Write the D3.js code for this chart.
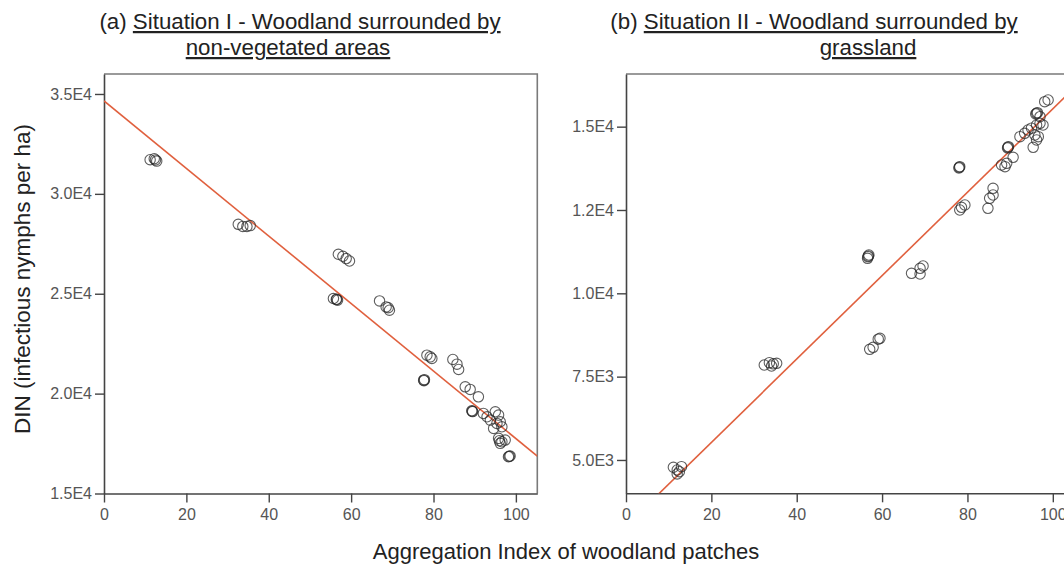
<!DOCTYPE html>
<html>
<head>
<meta charset="utf-8">
<script src="https://cdn.jsdelivr.net/npm/d3@7"></script>
<style>
  html, body { margin: 0; padding: 0; background: #fff; }
  svg { display: block; font-family: "Liberation Sans", Arial, sans-serif; }
</style>
</head>
<body>
<svg id="chart" width="1064" height="565"></svg>
<script>
// ---------- DATA ----------
const xTickValues = [0, 20, 40, 60, 80, 100];
const xTickLabels = ["0", "20", "40", "60", "80", "100"];

const yTickValuesA = [15000, 20000, 25000, 30000, 35000];
const yTickLabelsA = ["1.5E4", "2.0E4", "2.5E4", "3.0E4", "3.5E4"];
const yTickValuesB = [5000, 7500, 10000, 12500, 15000];
const yTickLabelsB = ["5.0E3", "7.5E3", "1.0E4", "1.2E4", "1.5E4"];

// Panel (a): aggregation index and DIN
const aggIndexA = [11.2, 12.2, 12.8, 12.5,
  32.6, 33.7, 34.7, 35.5,
  56.9, 58.0, 58.8, 59.6,
  55.7, 56.4, 56.7, 56.5,
  66.9, 68.5, 69.3, 69.0,
  78.4, 79.2, 79.6,
  77.6, 77.8, 77.7,
  84.7, 85.7, 86.1,
  87.7, 88.9, 90.9,
  89.3, 89.5, 89.4,
  92.1, 93.0, 93.8, 95.0, 95.8, 96.2, 96.6, 95.4, 94.6,
  95.8, 96.6, 96.2, 97.4, 96.0,
  98.2, 98.6, 98.4];
const dinA = [31710, 31760, 31640, 31700,
  28475, 28370, 28370, 28410,
  26975, 26875, 26760, 26640,
  24760, 24710, 24675, 24720,
  24640, 24340, 24175, 24300,
  21925, 21840, 21760,
  20675, 20700, 20650,
  21710, 21475, 21210,
  20340, 20210, 19840,
  19140, 19100, 19120,
  19010, 18840, 18675, 19090, 18925, 18590, 18340, 18510, 18260,
  17760, 17590, 17510, 17675, 17640,
  16840, 16875, 16860];

// Panel (b)
const aggIndexB = [11.1, 12.0, 13.0, 12.0, 12.5,
  32.4, 33.6, 34.5, 35.3, 34.1,
  57.1, 57.9, 59.1, 59.5,
  56.7, 56.9, 56.6, 56.8,
  66.9, 68.9, 69.6, 68.9,
  78.1, 78.2, 78.0,
  78.6, 79.4, 78.2,
  84.8, 85.2, 86.0, 86.0,
  88.0, 89.2, 88.8, 90.7,
  89.5, 89.6, 89.4,
  92.3, 93.4, 94.2, 95.0, 96.2, 97.0, 97.7,
  95.4, 96.2, 96.6, 95.8,
  96.2, 97.0, 96.4, 96.0,
  98.1, 98.9];
const dinB = [4780, 4700, 4800, 4580, 4650,
  7850, 7920, 7885, 7900, 7820,
  8320, 8380, 8625, 8650,
  11100, 11150, 11050, 11120,
  10600, 10750, 10820, 10580,
  13780, 13800, 13760,
  12580, 12650, 12500,
  12550, 12850, 12950, 13150,
  13850, 13900, 13800, 14080,
  14380, 14400, 14360,
  14700, 14800, 14900, 14955, 15050, 15100, 15050,
  14380, 14600, 14700, 14750,
  15400, 15300, 15420, 15380,
  15750, 15800];

// Linear fit lines: [intercept, slope]
const fitA = [34650, -169];
const fitB = [3024, 125.1];

const titleA = ["(a) ", "Situation I - Woodland surrounded by", "non-vegetated areas"];
const titleB = ["(b) ", "Situation II - Woodland surrounded by", "grassland"];
const yAxisTitle = "DIN (infectious nymphs per ha)";
const xAxisTitle = "Aggregation Index of woodland patches";

// ---------- DRAW ----------
const svg = d3.select("#chart");
const plotTop = 74;

const panels = [
  { x0: 104, x1: 537.3, y0: 493.5, xDom: [0, 105.2], yDom: [15000, 36000],
    xs: aggIndexA, ys: dinA, fit: fitA, yt: yTickValuesA, yl: yTickLabelsA, id: "a" },
  { x0: 626, x1: 1075, y0: 493.3, xDom: [0, 105.2], yDom: [4000, 16580],
    xs: aggIndexB, ys: dinB, fit: fitB, yt: yTickValuesB, yl: yTickLabelsB, id: "b" }
];

panels.forEach(p => {
  const x = d3.scaleLinear().domain(p.xDom).range([p.x0, p.x1]);
  const y = d3.scaleLinear().domain(p.yDom).range([p.y0, plotTop]);

  svg.append("clipPath").attr("id", "clip" + p.id)
    .append("rect").attr("x", p.x0).attr("y", plotTop)
    .attr("width", p.x1 - p.x0).attr("height", p.y0 - plotTop);

  svg.append("path")
    .attr("d", `M${p.x0},${plotTop}H${p.x1}V${p.y0}`)
    .attr("fill", "none").attr("stroke", "#7a7a7a").attr("stroke-width", 1.6);

  const gx = svg.append("g").attr("transform", `translate(0,${p.y0})`)
    .call(d3.axisBottom(x).tickValues(xTickValues)
      .tickFormat((d, i) => xTickLabels[i]).tickSize(9).tickPadding(4).tickSizeOuter(0));
  const gy = svg.append("g").attr("transform", `translate(${p.x0},0)`)
    .call(d3.axisLeft(y).tickValues(p.yt)
      .tickFormat((d, i) => p.yl[i]).tickSize(9).tickPadding(3).tickSizeOuter(0));
  [gx, gy].forEach(g => {
    g.select(".domain").attr("stroke", "#444").attr("stroke-width", 1.6);
    g.selectAll(".tick line").attr("stroke", "#444").attr("stroke-width", 1.4);
    g.selectAll(".tick text").attr("fill", "#555").attr("font-size", 16)
      .attr("font-family", "'Liberation Sans', Arial, sans-serif");
  });
  gx.selectAll(".tick text").attr("dy", "0.85em");

  const lineData = p.xDom.map(v => [v, p.fit[0] + p.fit[1] * v]);
  svg.append("path")
    .datum(lineData)
    .attr("clip-path", `url(#clip${p.id})`)
    .attr("d", d3.line().x(d => x(d[0])).y(d => y(d[1])))
    .attr("fill", "none").attr("stroke", "#e0603e").attr("stroke-width", 1.6);

  svg.append("g").attr("clip-path", `url(#clip${p.id})`)
    .selectAll("circle").data(p.xs.map((v, i) => [v, p.ys[i]]))
    .join("circle")
    .attr("cx", d => x(d[0])).attr("cy", d => y(d[1])).attr("r", 5.2)
    .attr("fill", "none").attr("stroke", "#2a2a2a").attr("stroke-opacity", 0.75)
    .attr("stroke-width", 1.1);
});

function title(t, cx1, cx2) {
  const t1 = svg.append("text").attr("x", cx1).attr("y", 29)
    .attr("text-anchor", "middle").attr("font-size", 22.3).attr("fill", "#222");
  t1.append("tspan").text(t[0]);
  t1.append("tspan").attr("text-decoration", "underline").text(t[1]);
  svg.append("text").attr("x", cx2).attr("y", 55)
    .attr("text-anchor", "middle").attr("font-size", 22.3).attr("fill", "#222")
    .attr("text-decoration", "underline").text(t[2]);
}
title(titleA, 300, 288);
title(titleB, 814, 868);

svg.append("text")
  .attr("transform", "translate(30,279) rotate(-90)")
  .attr("text-anchor", "middle").attr("font-size", 22.5).attr("fill", "#222")
  .text(yAxisTitle);

svg.append("text").attr("x", 566).attr("y", 559)
  .attr("text-anchor", "middle").attr("font-size", 22).attr("fill", "#222")
  .text(xAxisTitle);
</script>
</body>
</html>
